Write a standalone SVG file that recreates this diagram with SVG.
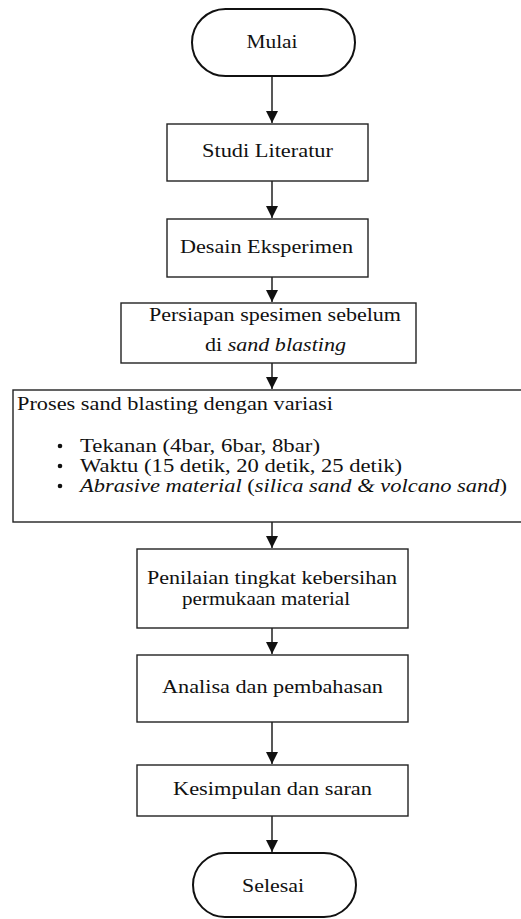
<svg xmlns="http://www.w3.org/2000/svg" width="521" height="919" viewBox="0 0 521 919">
<defs>
<marker id="ah" viewBox="0 0 12 12" refX="12" refY="6" markerWidth="12" markerHeight="12" markerUnits="userSpaceOnUse" orient="auto">
<path d="M0,0 L12,6 L0,12 Z" fill="#111"/>
</marker>
<style>
text{font-family:'Liberation Serif','Times New Roman','DejaVu Serif',serif;font-size:19px;fill:#111}
.box{fill:#fff;stroke:#222;stroke-width:1.4}
.term{fill:#fff;stroke:#111;stroke-width:2}
.c{stroke:#111;stroke-width:1.4;fill:none;marker-end:url(#ah)}
</style>
</defs>
<rect width="521" height="919" fill="#fff"/>
<g id="connectors">
<line class="c" x1="272" y1="76" x2="272" y2="123"/>
<line class="c" x1="272" y1="181" x2="272" y2="218"/>
<line class="c" x1="272" y1="277" x2="272" y2="302"/>
<line class="c" x1="272" y1="363" x2="272" y2="389"/>
<line class="c" x1="272" y1="522" x2="272" y2="548"/>
<line class="c" x1="272" y1="628" x2="272" y2="654"/>
<line class="c" x1="272" y1="722" x2="272" y2="764"/>
<line class="c" x1="272" y1="816" x2="272" y2="852"/>
</g>
<g id="mulai">
<rect class="term" x="192" y="9" width="163" height="67" rx="33.5" ry="33.5"/>
<text x="272" y="48" text-anchor="middle" textLength="51" lengthAdjust="spacingAndGlyphs">Mulai</text>
</g>
<g id="studi">
<rect class="box" x="167" y="124" width="201" height="57"/>
<text x="267.5" y="157" text-anchor="middle" textLength="131" lengthAdjust="spacingAndGlyphs">Studi Literatur</text>
</g>
<g id="desain">
<rect class="box" x="167" y="219" width="201" height="58"/>
<text x="266.5" y="253" text-anchor="middle" textLength="173" lengthAdjust="spacingAndGlyphs">Desain Eksperimen</text>
</g>
<g id="persiapan">
<rect class="box" x="121" y="303" width="295" height="60"/>
<text x="275" y="321" text-anchor="middle" textLength="252" lengthAdjust="spacingAndGlyphs">Persiapan spesimen sebelum</text>
<text x="275.5" y="351" text-anchor="middle" textLength="141" lengthAdjust="spacingAndGlyphs">di <tspan font-style="italic">sand blasting</tspan></text>
</g>
<g id="proses">
<rect class="box" x="13" y="390" width="515" height="132"/>
<text x="17" y="410" textLength="316" lengthAdjust="spacingAndGlyphs">Proses sand blasting dengan variasi</text>
<circle cx="60" cy="446" r="2.3" fill="#111"/>
<circle cx="60" cy="466" r="2.3" fill="#111"/>
<circle cx="60" cy="486" r="2.3" fill="#111"/>
<text x="80" y="452" textLength="240" lengthAdjust="spacingAndGlyphs">Tekanan (4bar, 6bar, 8bar)</text>
<text x="80" y="472" textLength="322" lengthAdjust="spacingAndGlyphs">Waktu (15 detik, 20 detik, 25 detik)</text>
<text x="80" y="492" textLength="427" lengthAdjust="spacingAndGlyphs"><tspan font-style="italic">Abrasive material</tspan> (<tspan font-style="italic">silica sand &amp; volcano sand</tspan>)</text>
</g>
<g id="penilaian">
<rect class="box" x="137" y="549" width="271" height="79"/>
<text x="272" y="584" text-anchor="middle" textLength="250" lengthAdjust="spacingAndGlyphs">Penilaian tingkat kebersihan</text>
<text x="266" y="605" text-anchor="middle" textLength="168" lengthAdjust="spacingAndGlyphs">permukaan material</text>
</g>
<g id="analisa">
<rect class="box" x="137" y="655" width="271" height="67"/>
<text x="272.5" y="693" text-anchor="middle" textLength="221" lengthAdjust="spacingAndGlyphs">Analisa dan pembahasan</text>
</g>
<g id="kesimpulan">
<rect class="box" x="137" y="765" width="271" height="51"/>
<text x="272.5" y="795" text-anchor="middle" textLength="199" lengthAdjust="spacingAndGlyphs">Kesimpulan dan saran</text>
</g>
<g id="selesai">
<rect class="term" x="193" y="853" width="163" height="64" rx="32" ry="32"/>
<text x="273" y="892" text-anchor="middle" textLength="62" lengthAdjust="spacingAndGlyphs">Selesai</text>
</g>
</svg>
